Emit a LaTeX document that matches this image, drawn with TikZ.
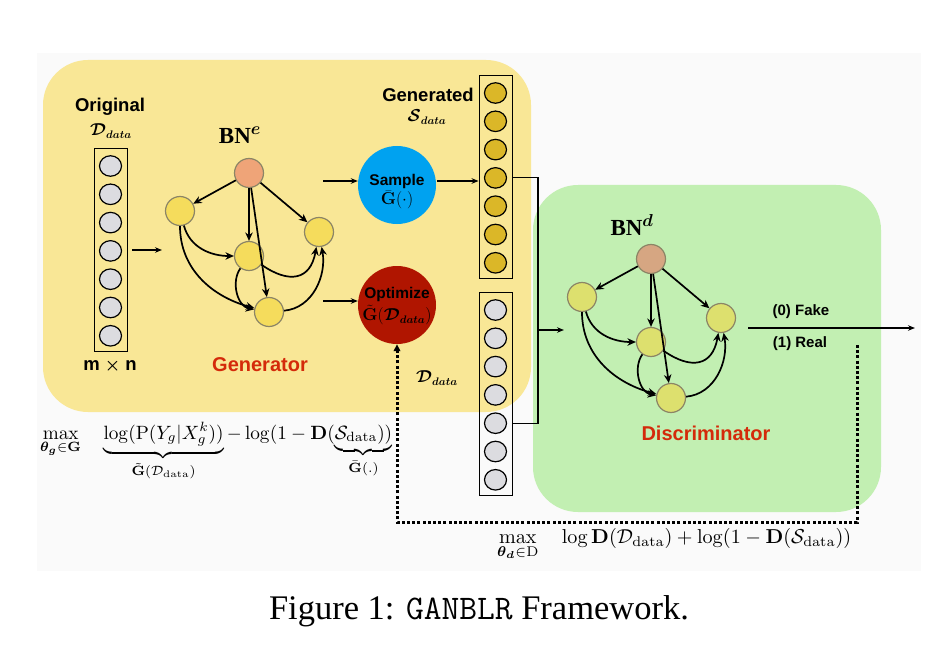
\documentclass[tikz,border=0pt]{standalone}
\usepackage[no-math]{fontspec}
\setmainfont{Liberation Serif}
\setsansfont{Liberation Sans}
\usepackage{amsmath,amssymb,bm,graphicx}
\usetikzlibrary{arrows.meta,shapes.geometric,calc}
\definecolor{ybox}{HTML}{F9E796}
\definecolor{gbox}{HTML}{C2EFB2}
\definecolor{bgfaint}{HTML}{FAFAFA}
\definecolor{sblue}{HTML}{00A2F0}
\definecolor{ored}{HTML}{B01500}
\definecolor{eroot}{HTML}{EFA478}
\definecolor{enode}{HTML}{F5DC5C}
\definecolor{droot}{HTML}{D6A682}
\definecolor{dnode}{HTML}{DDE06E}
\definecolor{goldc}{HTML}{DBB728}
\definecolor{cgray}{HTML}{DCDCE0}
\definecolor{tred}{HTML}{D42A0A}
\definecolor{bnborder}{HTML}{8C8566}
\tikzset{
  bnnode/.style={circle,minimum size=29pt,inner sep=0pt,draw=bnborder,line width=1.2pt},
  bnarrow/.style={line width=1.7pt,-{Stealth[length=8.5pt,width=7.5pt]}},
  conn/.style={line width=1.2pt},
  connarr/.style={line width=1.2pt,-{Stealth[length=7pt,width=5.5pt]}},
  colbox/.style={rectangle,draw=black,line width=0.9pt,minimum width=33pt,minimum height=203pt,inner sep=0pt},
  colcirc/.style={ellipse,draw=black,line width=1.2pt,minimum width=22pt,minimum height=20.5pt,inner sep=0pt},
  sanslbl/.style={font=\sffamily\bfseries\fontsize{18.5}{20}\selectfont},
  redlbl/.style={font=\sffamily\bfseries\fontsize{20}{22}\selectfont,text=tred},
  smalllbl/.style={font=\sffamily\bfseries\fontsize{15}{17}\selectfont},
  dotline/.style={line width=3pt,dash pattern=on 3pt off 2.2pt,-{Triangle[length=7pt,width=6.5pt]}},
}
\newcommand\bngraph[5]{%
 \begin{scope}[shift={(#2,#3)}]
 \node[bnnode,fill=#4] (#1r) at (249,-173) {};
 \node[bnnode,fill=#5] (#1a) at (180,-211) {};
 \node[bnnode,fill=#5] (#1b) at (249,-256) {};
 \node[bnnode,fill=#5] (#1c) at (319,-232) {};
 \node[bnnode,fill=#5] (#1d) at (269,-312) {};
 \draw[bnarrow] (#1r) -- (#1a);
 \draw[bnarrow] (#1r) -- (#1b);
 \draw[bnarrow] (#1r) -- (#1d);
 \draw[bnarrow] (#1r) -- (#1c);
 \draw[bnarrow] (#1a) to[out=-75,in=180] (#1b);
 \draw[bnarrow] (#1a) to[out=-90,in=165] (#1d);
 \draw[bnarrow] (#1b) to[out=-125,in=170] (#1d);
 \draw[bnarrow] (#1b) to[out=-35,in=-100,looseness=1.5] (#1c);
 \draw[bnarrow] (#1d) to[out=5,in=-80] (#1c);
 \end{scope}}
\begin{document}
\begin{tikzpicture}[x=1pt,y=1pt]
\useasboundingbox (0,0) rectangle (932,-658);
\fill[white] (0,0) rectangle (932,-658);
\fill[bgfaint] (37,-53) rectangle (921,-571);
% panels
\fill[ybox,rounded corners=45pt] (43,-60) rectangle (531,-412);
\fill[gbox,rounded corners=45pt] (533,-185) rectangle (881,-512);
% columns
\node[colbox] (ocol) at (110.5,-249.5) {};
\foreach \i in {1,...,7} \node[colcirc,fill=cgray] (oc\i) at (110.5,{-166-28.3*(\i-1)}) {};
\node[colbox] (gencol) at (495.5,-176.5) {};
\foreach \i in {1,...,7} \node[colcirc,fill=goldc] (gc\i) at (495.5,{-93-28.3*(\i-1)}) {};
\node[colbox] (datcol) at (495.5,-393.5) {};
\foreach \i in {1,...,7} \node[colcirc,fill=cgray] (dc\i) at (495.5,{-310-28.3*(\i-1)}) {};
% labels
\node[sanslbl] (origt) at (110,-107) {Original};
\node[font=\fontsize{16}{18}\selectfont] (origd) at (111,-131) {$\bm{\mathcal{D}}_{\bm{data}}$};
\node[sanslbl] (mn) at (110,-366) {m $\bm{\times}$ n};
\node[font=\fontsize{23}{26}\selectfont\bfseries] (bne) at (240,-135) {BN$^{\bm{e}}$};
\node[redlbl] (gentxt) at (260,-365) {Generator};
\node[sanslbl] (gentd) at (428,-95) {Generated};
\node[font=\fontsize{16}{18}\selectfont] (gens) at (427,-117) {$\bm{\mathcal{S}}_{\bm{data}}$};
\node[font=\fontsize{16}{18}\selectfont] (datl) at (437,-378) {$\bm{\mathcal{D}}_{\bm{data}}$};
\node[font=\fontsize{23}{26}\selectfont\bfseries] (bnd) at (632,-225) {BN$^{\bm{d}}$};
\node[redlbl] (distxt) at (706,-433) {Discriminator};
% graphs
\bngraph{e}{0}{0}{eroot}{enode}
\bngraph{d}{402}{-86}{droot}{dnode}
% sample / optimize
\node[circle,fill=sblue,minimum size=78pt,inner sep=0pt] (smp) at (397,-185) {};
\node[font=\sffamily\bfseries\fontsize{15.5}{17}\selectfont] (smpt) at (397,-181) {Sample};
\node[font=\fontsize{16}{18}\selectfont] (smpg) at (397,-200) {$\bar{\mathbf{G}}(\cdot)$};
\node[circle,fill=ored,minimum size=78pt,inner sep=0pt] (opt) at (397,-305) {};
\node[font=\sffamily\bfseries\fontsize{15.5}{17}\selectfont] (optt) at (397,-294) {Optimize};
\node[font=\fontsize{16}{18}\selectfont] (optg) at (397,-315) {$\tilde{\mathbf{G}}(\bm{\mathcal{D}}_{\bm{data}})$};
% connectors
\coordinate (a0) at (132,-250);
\coordinate (a1) at (162,-250);
\draw[connarr] (a0) -- (a1);
\coordinate (s0) at (323,-181);
\draw[connarr] (s0) -- (s0 -| smp.west);
\coordinate (p0) at (323,-301);
\draw[connarr] (p0) -- (p0 -| opt.west);
\coordinate (s1) at (437,-181);
\draw[connarr] (s1) -- (s1 -| gencol.west);
\coordinate (jn) at (538,-330);
\coordinate (din) at (564,-330);
\draw[conn] (gencol.east |- gc4) -| (jn);
\draw[conn] (datcol.east |- dc5) -| (jn);
\draw[connarr] (jn) -- (din);
\coordinate (o1) at (748,-328);
\coordinate (o2) at (915,-328);
\draw[connarr] (o1) -- (o2);
\node[smalllbl] (fake) at (801,-312) {(0) Fake};
\node[smalllbl] (real) at (800,-344) {(1) Real};
\coordinate (dt1) at (857,-345);
\coordinate (dt2) at (857,-522);
\draw[dotline] (dt1) -- (dt2) -| (opt.south);
% formulas
\node[anchor=base west,inner sep=0pt] (f1) at (40,-439) {\resizebox{352pt}{!}{$\displaystyle\max_{\bm{\theta_g}\in\mathbf{G}}\quad\underbrace{\log(\mathrm{P}(Y_g|X_g^k))}_{\tilde{\mathbf{G}}(\mathcal{D}_{\mathrm{data}})}-\log(1-\mathbf{D}(\underbrace{\mathcal{S}_{\mathrm{data}}))}_{\bar{\mathbf{G}}(.)}$}};
\node[anchor=base west,inner sep=0pt] (f2) at (497,-543) {\resizebox{354pt}{!}{$\displaystyle\max_{\bm{\theta_d}\in\mathrm{D}}\quad\log\mathbf{D}(\mathcal{D}_{\mathrm{data}})+\log(1-\mathbf{D}(\mathcal{S}_{\mathrm{data}}))$}};
% caption
\node (cap) at (479,-611) {\fontsize{34.5}{40}\selectfont Figure 1: {\ttfamily GANBLR} Framework.};
\end{tikzpicture}
\end{document}
